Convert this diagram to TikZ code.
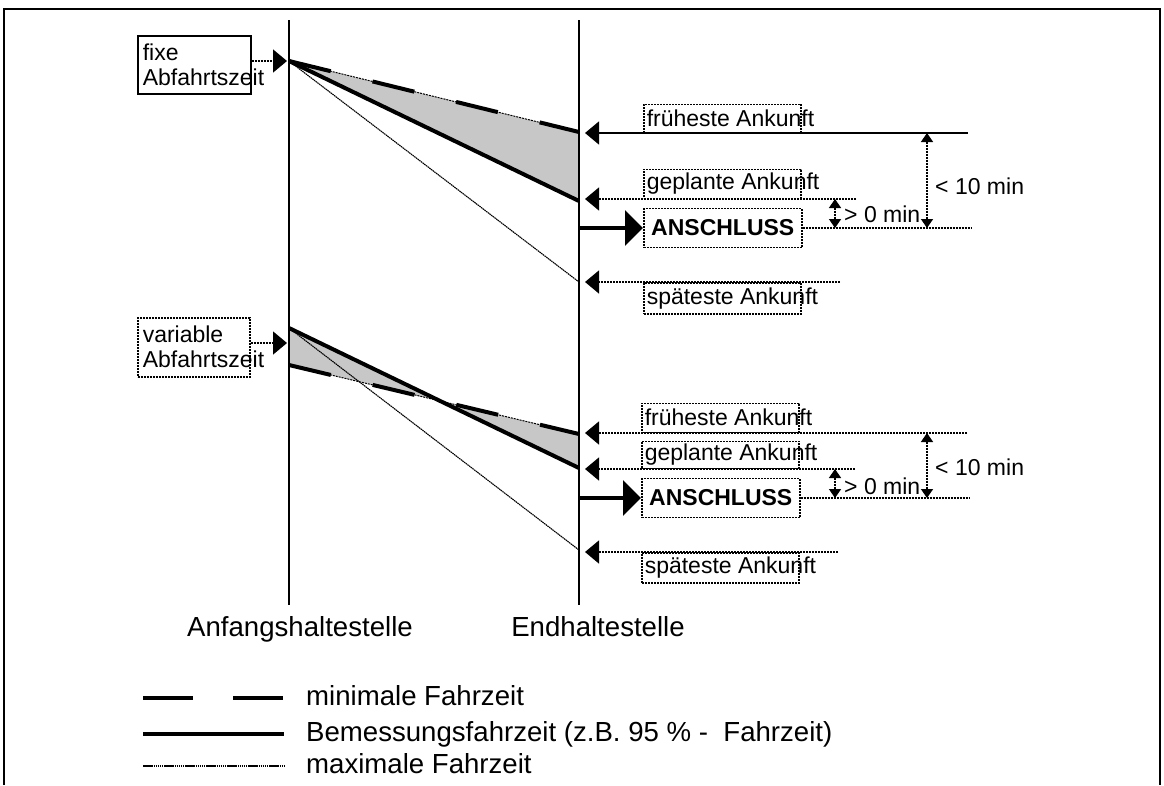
\documentclass[tikz,border=0pt]{standalone}
\usepackage{fontspec}
\setmainfont{Liberation Sans}
\usetikzlibrary{arrows.meta}
\newcommand\ankText[1]{\makebox[151pt][l]{#1}}

\begin{document}
\begin{tikzpicture}[x=1pt,y=-1pt,
  halt/.style={line width=2pt},
  punkt/.style={line width=1.5pt,dash pattern=on 2pt off 1pt},
  fein/.style={line width=1.1pt,dash pattern=on 1.5pt off 0.6pt},
  dick/.style={line width=4pt},
  strich/.style={line width=4pt,dash pattern=on 43pt off 43pt},
  pfeil/.style={-{Triangle[length=14pt,width=23pt]}},
  grosspfeil/.style={-{Triangle[length=18pt,width=35pt]}},
  mass/.style={punkt,{Triangle[length=9pt,width=12pt]}-{Triangle[length=9pt,width=12pt]}},
  klein/.style={font=\fontsize{23}{25}\selectfont},
  gross/.style={font=\fontsize{27.6}{32}\selectfont},
  ankbox/.style={draw,punkt,klein,inner xsep=3pt,inner ysep=1pt},
  anbox/.style={draw,punkt,font=\fontsize{23}{25}\selectfont\bfseries,minimum width=158pt,minimum height=39pt}]
  \useasboundingbox (0,0) rectangle (1164,785);
  \draw[line width=2.5pt] (4,785) -- (4,9) -- (1160,9) -- (1160,785);

  % obere Fahrt (fixe Abfahrt)
  \coordinate (ab1) at (289,61);
  \coordinate (min1) at (579,132);
  \coordinate (bem1) at (579,201);
  \coordinate (max1) at (579,282);
  \fill[black!22] (ab1) -- (min1) -- (bem1) -- cycle;
  \draw[fein] (ab1) -- (max1);
  \draw[punkt,line width=1pt] (ab1) -- (min1);
  \draw[strich] (ab1) -- (min1);
  \draw[dick] (ab1) -- (bem1);

  % untere Fahrt (variable Abfahrt)
  \coordinate (ab2o) at (289,328);
  \coordinate (ab2u) at (289,365);
  \coordinate (min2) at (579,434);
  \coordinate (bem2) at (579,468);
  \coordinate (max2) at (579,550);
  \fill[black!22] (ab2o) -- (ab2u) -- (min2) -- (bem2) -- cycle;
  \draw[fein] (ab2o) -- (max2);
  \draw[punkt,line width=1pt] (ab2u) -- (min2);
  \draw[strich] (ab2u) -- (min2);
  \draw[dick] (ab2o) -- (bem2);

  % Haltestellen
  \foreach \i/\x in {1/289,2/579}
    \draw[halt] (\x,20) coordinate (h\i oben) -- (\x,605) coordinate (h\i unten);
  \node[gross,anchor=base] (anf) at (300,636) {Anfangshaltestelle};
  \node[gross,anchor=base] (end) at (598,636) {Endhaltestelle};

  % Abfahrt
  \node[draw,line width=1.5pt,klein,align=left,anchor=north west,inner xsep=5pt,inner ysep=3pt,minimum height=58pt] (fix) at (137,35) {fixe\\\makebox[103pt][l]{Abfahrtszeit}};
  \draw[punkt,pfeil,shorten >=2pt] (fix.east |- ab1) -- (ab1);
  \node[draw,punkt,klein,align=left,anchor=north west,inner xsep=5pt,inner ysep=3pt,minimum height=59pt] (var) at (137,317) {variable\\\makebox[102pt][l]{Abfahrtszeit}};
  \coordinate (ziel2) at (289,343);
  \draw[punkt,pfeil,shorten >=2pt] (var.east |- ziel2) -- (ziel2);

  % Ankunft oben
  \coordinate (fr1e) at (968,133);
  \coordinate (ge1e) at (856,199);
  \coordinate (an1e) at (972,228);
  \coordinate (sp1e) at (840,282);
  \node[ankbox,anchor=south west,minimum height=28pt] (fr1) at (643,133) {\ankText{früheste Ankunft}};
  \node[ankbox,anchor=south west,minimum height=29pt] (ge1) at (643,199) {\ankText{geplante Ankunft}};
  \node[ankbox,anchor=north west,minimum height=31pt] (sp1) at (643,282) {\ankText{späteste Ankunft}};
  \node[anbox,anchor=west] (an1) at (643,228) {ANSCHLUSS};
  \draw[line width=1.5pt,pfeil,shorten >=6pt] (fr1e) -- (fr1e -| h2oben);
  \draw[punkt,pfeil,shorten >=6pt] (ge1e) -- (ge1e -| h2oben);
  \draw[punkt,pfeil,shorten >=6pt] (sp1e) -- (sp1e -| h2oben);
  \draw[dick,grosspfeil] (an1.west -| h2oben) -- (an1.west);
  \draw[punkt] (an1.east) -- (an1e);
  \draw[mass] (ge1e) ++(-21,0) coordinate (n1) -- (n1 |- an1e);
  \node[klein,anchor=west,inner sep=1pt] (nul1) at (843,214) {> 0 min};
  \coordinate (z1) at (927,133);
  \draw[mass] (z1) -- (z1 |- an1e);
  \node[klein,anchor=west,inner sep=1pt] (zehn1) at (934,186) {< 10 min};

  % Ankunft unten
  \coordinate (fr2e) at (967,433);
  \coordinate (ge2e) at (855,469);
  \coordinate (an2e) at (970,498);
  \coordinate (sp2e) at (838,552);
  \node[ankbox,anchor=south west,minimum height=29pt] (fr2) at (641,433) {\ankText{früheste Ankunft}};
  \node[ankbox,anchor=south west,minimum height=27pt] (ge2) at (641,469) {\ankText{geplante Ankunft}};
  \node[ankbox,anchor=north west,minimum height=30pt] (sp2) at (641,552) {\ankText{späteste Ankunft}};
  \node[anbox,anchor=west] (an2) at (641,498) {ANSCHLUSS};
  \draw[punkt,pfeil,shorten >=6pt] (fr2e) -- (fr2e -| h2oben);
  \draw[punkt,pfeil,shorten >=6pt] (ge2e) -- (ge2e -| h2oben);
  \draw[punkt,pfeil,shorten >=6pt] (sp2e) -- (sp2e -| h2oben);
  \draw[dick,grosspfeil] (an2.west -| h2oben) -- (an2.west);
  \draw[punkt] (an2.east) -- (an2e);
  \draw[mass] (ge2e) ++(-20,0) coordinate (n2) -- (n2 |- an2e);
  \node[klein,anchor=west,inner sep=1pt] (nul2) at (843,486) {> 0 min};
  \coordinate (z2) at (927,433);
  \draw[mass] (z2) -- (z2 |- an2e);
  \node[klein,anchor=west,inner sep=1pt] (zehn2) at (934,467) {< 10 min};

  % Legende
  \node[gross,anchor=base west,inner sep=2pt] (lmin) at (304,705) {minimale Fahrzeit};
  \node[gross,anchor=base west,inner sep=2pt] (lbem) at (304,741) {Bemessungsfahrzeit (z.B. 95 \% -~ Fahrzeit)};
  \node[gross,anchor=base west,inner sep=2pt] (lmax) at (304,773) {maximale Fahrzeit};
  \draw[strich,dash pattern=on 50pt off 40pt] ([xshift=-161pt,yshift=7pt]lmin.base west) -- ([xshift=-20pt,yshift=7pt]lmin.base west);
  \draw[dick] ([xshift=-161pt,yshift=7pt]lbem.base west) -- ([xshift=-20pt,yshift=7pt]lbem.base west);
  \draw[fein] ([xshift=-161pt,yshift=7pt]lmax.base west) -- ([xshift=-20pt,yshift=7pt]lmax.base west);
\end{tikzpicture}
\end{document}
